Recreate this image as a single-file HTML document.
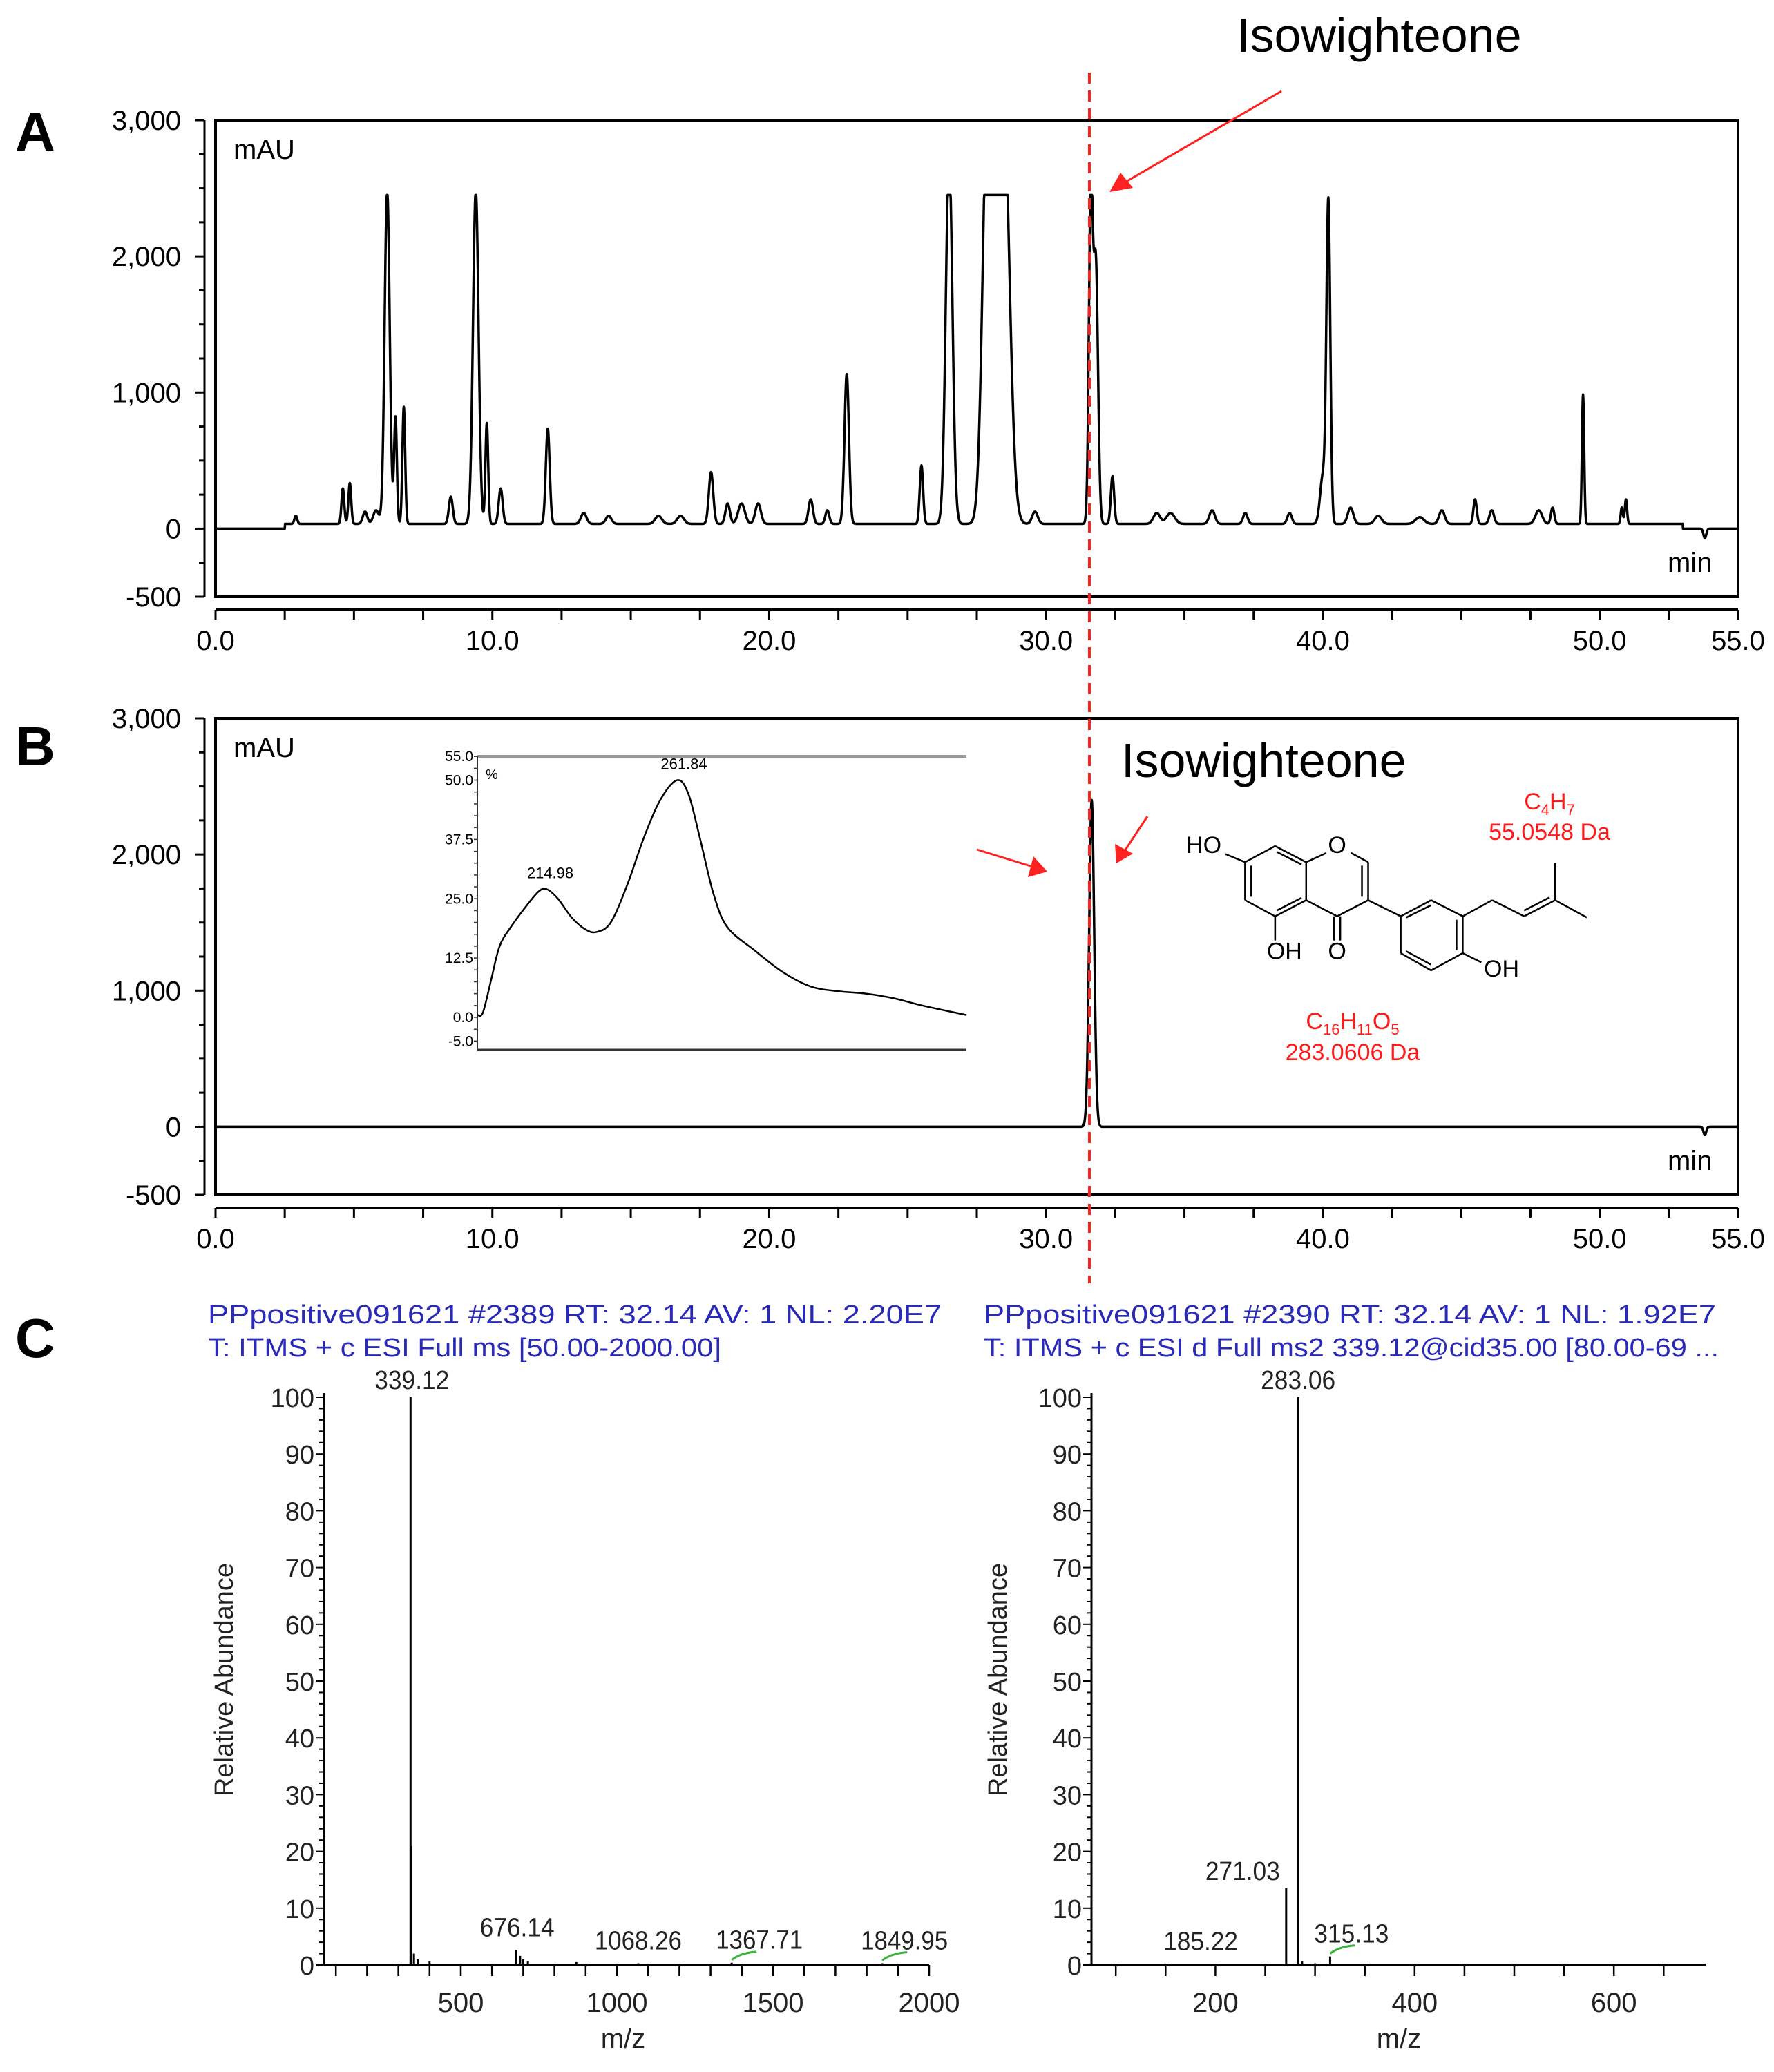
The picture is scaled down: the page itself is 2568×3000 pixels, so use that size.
<!DOCTYPE html>
<html><head><meta charset="utf-8"><style>
html,body{margin:0;padding:0;background:#fff}
svg{display:block}
text{font-family:"Liberation Sans",sans-serif}
</style></head>
<body>
<svg id="fig" width="2568" height="3000" viewBox="0 0 2568 3000" xmlns="http://www.w3.org/2000/svg">
<g id="labels">
<text x="22" y="218" font-size="80" font-weight="bold">A</text>
<text x="22" y="1108" font-size="80" font-weight="bold">B</text>
<text x="22" y="1965" font-size="80" font-weight="bold">C</text>
<text x="1790" y="75" font-size="70">Isowighteone</text>
<text x="1623" y="1125" font-size="70">Isowighteone</text>
</g>
<g id="chromA"></g>
<g id="chromB"></g>
<g id="inset"></g>
<g id="mol" stroke="#000" stroke-width="2.5" fill="none"></g>
<g id="ms1"></g>
<g id="ms2"></g>
<g id="annot">
<line x1="1577" y1="105" x2="1577" y2="1858" stroke="#ff2020" stroke-width="4" stroke-dasharray="16,10"/>
<line x1="1855" y1="132" x2="1625" y2="266" stroke="#ff2020" stroke-width="3"/>
<polygon points="1606,278 1622,250 1640,272" fill="#ff2020"/>
<line x1="1414" y1="1230" x2="1495" y2="1255" stroke="#ff2020" stroke-width="3"/>
<polygon points="1516,1262 1488,1270 1496,1240" fill="#ff2020"/>
<line x1="1661" y1="1182" x2="1628" y2="1232" stroke="#ff2020" stroke-width="3"/>
<polygon points="1616,1250 1614,1222 1640,1236" fill="#ff2020"/>
<g fill="#ff1a1a" font-size="34" text-anchor="middle">
<text x="2243" y="1172">C<tspan font-size="22" dy="8">4</tspan><tspan dy="-8">H</tspan><tspan font-size="22" dy="8">7</tspan></text>
<text x="2243" y="1216">55.0548 Da</text>
<text x="1958" y="1490">C<tspan font-size="22" dy="8">16</tspan><tspan dy="-8">H</tspan><tspan font-size="22" dy="8">11</tspan><tspan dy="-8">O</tspan><tspan font-size="22" dy="8">5</tspan></text>
<text x="1958" y="1535">283.0606 Da</text>
</g>
<g fill="#2a2ab8" font-size="38">
<text x="301" y="1916" textLength="1062" lengthAdjust="spacingAndGlyphs">PPpositive091621 #2389  RT: 32.14  AV: 1  NL: 2.20E7</text>
<text x="301" y="1964" textLength="743" lengthAdjust="spacingAndGlyphs">T: ITMS + c ESI Full ms [50.00-2000.00]</text>
<text x="1424" y="1916" textLength="1060" lengthAdjust="spacingAndGlyphs">PPpositive091621 #2390  RT: 32.14  AV: 1  NL: 1.92E7</text>
<text x="1424" y="1964" textLength="1064" lengthAdjust="spacingAndGlyphs">T: ITMS + c ESI d Full ms2 339.12@cid35.00 [80.00-69 ...</text>
</g>
</g>
</svg>
<script>
// ---- Chromatogram A data ----
const peakTimesA = [2.9,4.6,4.85,5.4,5.8,6.2,6.5,6.8,8.5,9.4,9.8,10.3,12.0,13.3,14.2,16.0,16.8,17.9,18.5,19.0,19.6,21.5,22.1,22.8,25.5,26.5,27.9,28.45,29.6,31.62,31.8,32.4,34.0,34.5,36.0,37.2,38.8,40.0,40.2,41.0,42.0,43.5,44.3,45.5,46.1,47.8,48.3,49.4,50.8,50.95];
const peakHeightsA = [60,260,300,90,100,2450,780,860,200,2450,740,260,700,80,60,60,60,380,150,150,150,180,100,1100,430,2700,3200,3200,90,2450,1900,350,80,80,100,80,80,350,2350,120,60,50,100,180,100,100,120,950,120,180];
const peakWidthsA = [0.05,0.05,0.05,0.08,0.1,0.09,0.05,0.05,0.07,0.1,0.05,0.07,0.07,0.1,0.1,0.12,0.12,0.08,0.08,0.12,0.1,0.08,0.07,0.08,0.06,0.12,0.18,0.22,0.1,0.07,0.08,0.06,0.12,0.15,0.1,0.08,0.08,0.1,0.07,0.1,0.12,0.15,0.1,0.06,0.08,0.12,0.06,0.04,0.04,0.04];
const clipA = 2450;
// ---- Chromatogram B data ----
const peakTimesB = [31.65];
const peakHeightsB = [2400];
const peakWidthsB = [0.09];
const dipTime = 53.8;
const dipDepthA = -70, dipDepthB = -60;
const yTicksChrom = [3000,2000,1000,0,-500];
const yTickLabelsChrom = ["3,000","2,000","1,000","0","-500"];
const xTicksChrom = [0,10,20,30,40,50,55];
const xTickLabelsChrom = ["0.0","10.0","20.0","30.0","40.0","50.0","55.0"];
// ---- UV inset data ----
const uvNm = [190,192,195,198,202,207,212,215,219,224,229,233,238,244,250,256,262,266,270,275,280,290,300,310,320,330,340,350,366];
const uvVal = [0.5,1,8,15,19,23,26.5,27,25,21,18.5,18,20,28,38,46,50,47,38,26,19,14,9.5,6.5,5.5,5,4,2.5,0.5];
const uvTicks = [55,50,37.5,25,12.5,0,-5];
const uvTickLabels = ["55.0","50.0","37.5","25.0","12.5","0.0","-5.0"];
// ---- MS data ----
const ms1Mz = [339.12,341.1,350,362,400,676.14,690,700,715,870,1068.26,1367.71,1849.95];
const ms1Int = [100,21,2,1,0.6,2.6,1.6,1,0.6,0.5,0.3,0.4,0.3];
const ms1LabelText = ["339.12","676.14","1068.26","1367.71","1849.95"];
const ms1LabelMz = [339.12,676.14,1068.26,1367.71,1849.95];
const ms1LabelInt = [100,2.6,0.3,0.4,0.3];
const ms2Mz = [185.22,271.03,283.06,287,300,315.13];
const ms2Int = [0.2,13.5,100,0.6,0.3,1.5];
const ms2LabelText = ["185.22","271.03","283.06","315.13"];
const ms2LabelMz = [185.22,271.03,283.06,315.13];
const ms2LabelInt = [0.2,13.5,100,1.5];

const NS="http://www.w3.org/2000/svg";
function mk(parent,tag,attrs,text){const e=document.createElementNS(NS,tag);for(const k in attrs)e.setAttribute(k,attrs[k]);if(text!==undefined)e.textContent=text;parent.appendChild(e);return e;}

function chrom(gid,top,bottom,times,heights,widths,clip,dip,baseline){
  const g=document.getElementById(gid);
  const L=312,R=2516,tMax=55;
  const y0=top+(bottom-top)*3000/3500;
  const sy=(bottom-top)/3500;
  const X=t=>L+t*(R-L)/tMax, Y=v=>y0-v*sy;
  let r=mk(g,'rect',{x:L,y:top,width:R-L,height:bottom-top,fill:'none',stroke:'#000','stroke-width':4});
  
  
  let ya=mk(g,'line',{x1:296,y1:top,x2:296,y2:bottom,stroke:'#000','stroke-width':3});
  
  
  for(let v=-500;v<=3000;v+=250){
    const major=(v%1000===0)||v===-500;
    mk(g,'line',{x1:296-(major?14:8),y1:Y(v),x2:296,y2:Y(v),stroke:'#000','stroke-width':3});
  }
  yTicksChrom.forEach((v,i)=>{
    const t=mk(g,'text',{x:262,y:Y(v)+14,'font-size':40,'text-anchor':'end'},yTickLabelsChrom[i]);
    
    
  });
  const ax=bottom+19;
  let xa=mk(g,'line',{x1:L,y1:ax,x2:R,y2:ax,stroke:'#000','stroke-width':4});
  
  
  for(let t=0;t<=55.001;t+=2.5){mk(g,'line',{x1:X(t),y1:ax,x2:X(t),y2:ax+14,stroke:'#000','stroke-width':3});}
  xTicksChrom.forEach((t,i)=>{
    const e=mk(g,'text',{x:X(t),y:ax+58,'font-size':40,'text-anchor':'middle'},xTickLabelsChrom[i]);
    
    
  });
  let u=mk(g,'text',{x:338,y:top+56,'font-size':40},'mAU');
  
  
  let m=mk(g,'text',{x:2414,y:bottom-36,'font-size':40},'min');
  
  
  let pts=[];
  for(let t=0;t<=55;t+=0.01){
    let v=0;
    if(baseline&&t>2.5&&t<53) v+=baseline;
    for(let i=0;i<times.length;i++){const d=(t-times[i])/widths[i];if(Math.abs(d)<8)v+=heights[i]*Math.exp(-0.5*d*d);}
    const dd=(t-dipTime)/0.05; v+=dip*Math.exp(-0.5*dd*dd);
    if(v>clip)v=clip;
    pts.push(X(t).toFixed(1)+','+Y(v).toFixed(1));
  }
  let p=mk(g,'polyline',{points:pts.join(' '),fill:'none',stroke:'#000','stroke-width':3.5,'stroke-linejoin':'round'});
  
  
}
chrom('chromA',174,864,peakTimesA,peakHeightsA,peakWidthsA,clipA,dipDepthA,35);
chrom('chromB',1040,1730,peakTimesB,peakHeightsB,peakWidthsB,99999,dipDepthB,0);

// Inset
(function(){
  const g=document.getElementById('inset');
  const L=691,R=1399,nm0=190,nm1=366;
  const Y=v=>1473-v*6.87, X=n=>L+(n-nm0)*(R-L)/(nm1-nm0);
  mk(g,'line',{x1:L,y1:1095,x2:R,y2:1095,stroke:'#999','stroke-width':4});
  mk(g,'line',{x1:L,y1:1520,x2:R,y2:1520,stroke:'#333','stroke-width':3});
  mk(g,'line',{x1:L,y1:1095,x2:L,y2:1520,stroke:'#333','stroke-width':2});
  for(let v=-5;v<=55;v+=2.5) mk(g,'line',{x1:L-5,y1:Y(v),x2:L,y2:Y(v),stroke:'#333','stroke-width':1.5});
  uvTicks.forEach((v,i)=>{
    const t=mk(g,'text',{x:L-6,y:Y(v)+7,'font-size':21,'text-anchor':'end'},uvTickLabels[i]);
    
    
  });
  mk(g,'text',{x:703,y:1128,'font-size':20},'%');
  const P=uvNm.map((n,i)=>[X(n),Y(uvVal[i])]);
  let d=`M${P[0][0]},${P[0][1]}`;
  for(let i=0;i<P.length-1;i++){
    const p0=P[Math.max(0,i-1)],p1=P[i],p2=P[i+1],p3=P[Math.min(P.length-1,i+2)];
    const c1=[p1[0]+(p2[0]-p0[0])/6,p1[1]+(p2[1]-p0[1])/6];
    const c2=[p2[0]-(p3[0]-p1[0])/6,p2[1]-(p3[1]-p1[1])/6];
    d+=` C${c1[0].toFixed(1)},${c1[1].toFixed(1)} ${c2[0].toFixed(1)},${c2[1].toFixed(1)} ${p2[0].toFixed(1)},${p2[1].toFixed(1)}`;
  }
  const p=mk(g,'path',{d:d,fill:'none',stroke:'#000','stroke-width':2.5});
  
  
  const a=mk(g,'text',{x:X(214.98)+5,y:Y(27)-16,'font-size':22,'text-anchor':'middle'},'214.98');
  
  
  const b=mk(g,'text',{x:X(261.84)+10,y:Y(50)-16,'font-size':22,'text-anchor':'middle'},'261.84');
  
  
})();

// Molecule
(function(){
  const g=document.getElementById('mol');
  const P=(x,y)=>[1700+x/2.228,1140+y/3.0];
  const ln=(a,b,c,d)=>{const p=P(a,b),q=P(c,d);mk(g,'line',{x1:p[0],y1:p[1],x2:q[0],y2:q[1]});};
  const bonds=[[228,325,325,255],[325,255,425,325],[425,325,425,490],[425,490,325,560],[325,560,228,490],[228,490,228,325],
  [165,290,228,325],[425,325,490,285],[570,285,625,325],[625,325,625,490],[625,490,525,560],[525,560,425,490],
  [325,560,325,665],[515,560,515,665],[535,560,535,665],[625,490,730,560],
  [730,560,828,490],[828,490,930,560],[930,560,930,720],[930,720,828,795],[828,795,730,720],[730,720,730,560],
  [930,720,990,760],[930,560,1025,490],[1025,490,1128,560],[1128,560,1228,490],[1228,490,1228,330],[1228,490,1330,565],
  [248,340,248,475],[330,280,410,335],[410,480,330,535],[605,340,605,475],
  [748,565,828,512],[910,575,910,705],[828,770,748,712],[1128,535,1210,478]];
  bonds.forEach(b=>ln(...b));
  const lab=(x,y,s)=>{const p=P(x,y);const t=mk(g,'text',{x:p[0],y:p[1],'font-size':34,'text-anchor':'middle',fill:'#000',stroke:'none'},s);};
  lab(95,285,'HO');lab(525,285,'O');lab(355,745,'OH');lab(525,745,'O');lab(1055,822,'OH');
})();

// MS spectra
function ms(gid,axX,axR,mzMin,mzMax,mzAt,pxPerMz,minorStep,majors,mz,inten,lText,lMz,lInt,lDx,titleX,mzLabelX,green){
  const g=document.getElementById(gid);
  const y0=2845,y100=2023;
  const X=m=>mzAt+(m-0)*pxPerMz, Y=v=>y0-(y0-y100)*v/100;
  mk(g,'line',{x1:axX,y1:y100-6,x2:axX,y2:y0,stroke:'#000','stroke-width':3});
  mk(g,'line',{x1:axX,y1:y0,x2:axR,y2:y0,stroke:'#000','stroke-width':4});
  for(let v=0;v<=100;v+=2){mk(g,'line',{x1:axX-(v%10===0?12:7),y1:Y(v),x2:axX,y2:Y(v),stroke:'#000','stroke-width':2});}
  for(let v=0;v<=100;v+=10){const t=mk(g,'text',{x:axX-14,y:Y(v)+14,'font-size':38,'text-anchor':'end',fill:'#222'},String(v));}
  for(let m=Math.ceil(mzMin/minorStep)*minorStep;m<=mzMax;m+=minorStep){mk(g,'line',{x1:X(m),y1:y0,x2:X(m),y2:y0+16,stroke:'#000','stroke-width':2.5});}
  majors.forEach(m=>{const t=mk(g,'text',{x:X(m),y:y0+68,'font-size':40,'text-anchor':'middle',fill:'#222'},String(m));});
  const yt=mk(g,'text',{x:titleX,y:2432,'font-size':38,'text-anchor':'middle',fill:'#222',transform:`rotate(-90 ${titleX} 2432)`},'Relative Abundance');
  
  
  const xt=mk(g,'text',{x:mzLabelX,y:2965,'font-size':40,'text-anchor':'middle',fill:'#222'},'m/z');
  
  
  mz.forEach((m,i)=>{const l=mk(g,'line',{x1:X(m),y1:y0,x2:X(m),y2:Y(inten[i]),stroke:'#000','stroke-width':3});});
  lText.forEach((s,i)=>{
    const v=lInt[i];
    let ty=Y(v)-12; if(v<5) ty=Y(v)-20;
    const t=mk(g,'text',{x:X(lMz[i])+lDx[i],y:ty,'font-size':38,'text-anchor':'middle',fill:'#222',textLength:s.length*18,lengthAdjust:'spacingAndGlyphs'},s);
    
    
  });
  green.forEach(([m,v])=>{mk(g,'path',{d:`M${X(m)} ${Y(v)-4} q12 -10 36 -12`,fill:'none',stroke:'#3cb43c','stroke-width':3});});
}
ms('ms1',469,1345,62,2000,441,0.452,100,[500,1000,1500,2000],ms1Mz,ms1Int,ms1LabelText,ms1LabelMz,ms1LabelInt,[2,2,0,40,32],337,902,[[1367.71,0.4],[1849.95,0.3]]);
ms('ms2',1580,2469,76,692,1471,1.442,50,[200,400,600],ms2Mz,ms2Int,ms2LabelText,ms2LabelMz,ms2LabelInt,[0,-63,0,31],1457,2025,[[315.13,1.5]]);
</script>
</body></html>
